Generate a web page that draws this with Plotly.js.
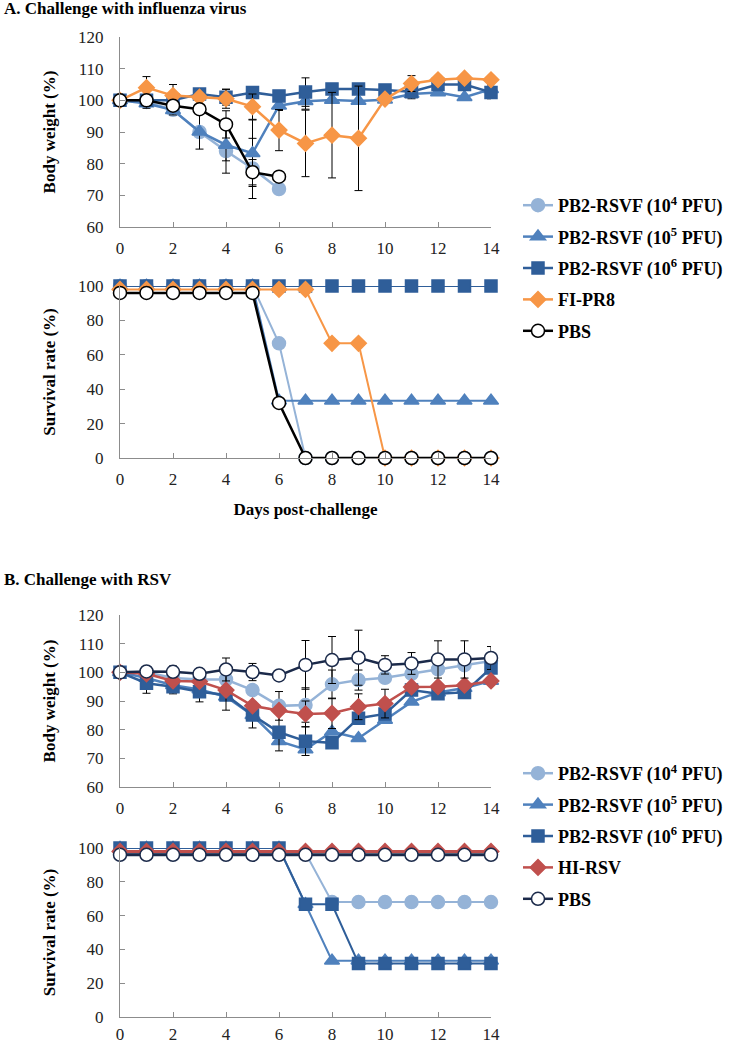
<!DOCTYPE html>
<html>
<head>
<meta charset="utf-8">
<script src="https://cdn.plot.ly/plotly-3.0.1.min.js"></script>
<style>html,body{margin:0;padding:0;background:#fff;}#chart{width:746px;height:1050px;}</style>
</head>
<body>
<div id="chart"></div>
<script>
// ---------- data ----------
const days = [0,1,2,3,4,5,6,7,8,9,10,11,12,13,14];
const daysShort = [0,1,2,3,4,5,6];

// Panel A: body weight (%)
const bwA_pb4   = [100, 99.5, 97, 90, 84, 78.5, 72];
const bwA_pb5   = [100, 99, 96.9, 90.1, 85.9, 83.3, 98.3, 99.7, 100.1, 99.8, 100.2, 102, 102.5, 101, 103.5];
const bwA_pb6   = [100, 100, 100, 102, 101, 102.5, 101.4, 102.6, 103.6, 103.6, 103.3, 102.7, 105, 105, 102.5];
const bwA_fipr8 = [100, 104, 101.5, 101, 100.5, 98, 90.6, 86.4, 89, 88, 100.4, 105.3, 106.5, 107, 106.5];
const bwA_pbs   = [100, 100, 98.3, 97.2, 92.4, 77.3, 75.9];
// Panel A: error bars (SD)
const errA_pb4   = [null, null, null, null, 7, 9.5, null];
const errA_pb5   = [null, 1.5, 1.5, 5.5, 5, 10.5, 1.5, 2.5, null, null, null, 1.5, null, null, 1.5];
const errA_pb6   = [null, null, null, 1.5, 2.5, 1.5, null, 4.5, null, null, null, 1, null, null, 2];
const errA_fipr8 = [null, 3.5, 3.5, null, 3, 4, 6.5, 10.5, 13.5, 16.5, null, 2.5, null, null, null];
const errA_pbs   = [null, null, null, null, 4.3, 4, null];
// Panel A: survival rate (%)
const svA_pb4   = [100,100,100,100,100,100,66.7,0,0,0,0,0,0,0,0];
const svA_pb5   = [100,100,100,100,100,100,33.3,33.3,33.3,33.3,33.3,33.3,33.3,33.3,33.3];
const svA_pb6   = [100,100,100,100,100,100,100,100,100,100,100,100,100,100,100];
const svA_fipr8 = [98,98,98,98,98,98,98,98,66.7,66.7,0,0,0,0,0];
const svA_pbs   = [96,96,96,96,96,96,32,0,0,0,0,0,0,0,0];

// Panel B: body weight (%)
const bwB_pb4   = [100, 100, 98, 97.5, 97.5, 93.8, 88.3, 88.6, 95.8, 97.3, 98.1, 99.5, 101, 102.5, 104];
const bwB_pb5   = [100, 98, 95.5, 94, 91.5, 85, 76, 73.1, 79.3, 77, 83.4, 89.7, 93, 94.5, 97];
const bwB_pb6   = [100, 96.2, 95, 93.2, 92.1, 85.1, 79.1, 76, 75.4, 84, 85.5, 93.8, 92.5, 93, 101.5];
const bwB_hirsv = [100, 99.5, 97, 96.8, 93.8, 88.3, 86.7, 85.5, 85.7, 88, 89.1, 94.9, 95, 95.5, 97];
const bwB_pbs   = [100, 100.3, 100.2, 99.5, 101, 100.1, 98.9, 102.6, 104.3, 105.1, 102.6, 103.1, 104.5, 104.5, 105];
// Panel B: error bars (SD)
const errB_pb4   = [null,null,null,null,null,null,5,6,5,3.5,null,null,null,null,null];
const errB_pb5   = [null,null,null,null,null,null,null,null,null,null,null,null,null,null,null];
const errB_pb6   = [null,3.5,2.5,3.5,null,4.5,6.5,5,null,null,null,null,null,null,null];
const errB_hirsv = [null,null,null,null,7,null,null,4.5,5.3,4.5,5,null,null,null,null];
const errB_pbs   = [null,null,2,null,4,3,null,8.5,8.2,9.6,3.2,3.8,6.5,6.5,4];
// Panel B: survival rate (%)
const svB_pb4   = [97,97,97,97,97,97,97,97,68,68,68,68,68,68,68];
const svB_pb5   = [100,100,100,100,100,100,100,66.7,33.3,33.3,33.3,33.3,33.3,33.3,33.3];
const svB_pb6   = [100,100,100,100,100,100,100,66.7,66.7,31.7,31.7,31.7,31.7,31.7,31.7];
const svB_hirsv = [98,98,98,98,98,98,98,98,98,98,98,98,98,98,98];
const svB_pbs   = [96,96,96,96,96,96,96,96,96,96,96,96,96,96,96];

const namesA = ['PB2-RSVF (10<sup>4</sup> PFU)','PB2-RSVF (10<sup>5</sup> PFU)','PB2-RSVF (10<sup>6</sup> PFU)','FI-PR8','PBS'];
const namesB = ['PB2-RSVF (10<sup>4</sup> PFU)','PB2-RSVF (10<sup>5</sup> PFU)','PB2-RSVF (10<sup>6</sup> PFU)','HI-RSV','PBS'];

// ---------- styles ----------
const SERIF = 'Liberation Serif, Times New Roman, serif';
const C_LIGHT = '#95B3D7', C_MID = '#4F81BD', C_DARK = '#2F5E99', C_ORANGE = '#F79646', C_RED = '#C0504D';
const stylesA = [
  {color:C_LIGHT, symbol:'circle', size:13, mcolor:C_LIGHT, mline:C_LIGHT},
  {color:C_MID, symbol:'triangle-up', size:13, mcolor:C_MID, mline:C_MID},
  {color:C_DARK, symbol:'square', size:12, mcolor:C_DARK, mline:C_DARK},
  {color:C_ORANGE, symbol:'diamond', size:12, mcolor:C_ORANGE, mline:C_ORANGE},
  {color:'#000000', symbol:'circle', size:13, mcolor:'#ffffff', mline:'#000000'}
];
const stylesB = [
  {color:C_LIGHT, symbol:'circle', size:13, mcolor:C_LIGHT, mline:C_LIGHT},
  {color:C_MID, symbol:'triangle-up', size:13, mcolor:C_MID, mline:C_MID},
  {color:C_DARK, symbol:'square', size:12, mcolor:C_DARK, mline:C_DARK},
  {color:C_RED, symbol:'diamond', size:12, mcolor:C_RED, mline:C_RED},
  {color:'#1B2A4A', symbol:'circle', size:13, mcolor:'#ffffff', mline:'#1B2A4A'}
];

function mk(x, y, err, name, st, xa, ya, legend, showlegend, lw){
  const t = {
    type:'scatter', mode:'lines+markers', x:x, y:y, name:name,
    xaxis:xa, yaxis:ya, legend:legend, legendgroup:legend+name, showlegend:showlegend,
    cliponaxis:false,
    line:{color:st.color, width:lw||2.5},
    marker:{symbol:st.symbol, size:st.size, color:st.mcolor, line:{color:st.mline, width:1.5}},
    hoverinfo:'x+y+name'
  };
  if(err){ t.error_y = {type:'data', array:err, symmetric:true, color:'#000000', thickness:1, width:4}; }
  return t;
}

const traces = [];
const bwA = [bwA_pb4,bwA_pb5,bwA_pb6,bwA_fipr8,bwA_pbs];
const errA = [errA_pb4,errA_pb5,errA_pb6,errA_fipr8,errA_pbs];
const svA = [svA_pb4,svA_pb5,svA_pb6,svA_fipr8,svA_pbs];
const bwB = [bwB_pb4,bwB_pb5,bwB_pb6,bwB_hirsv,bwB_pbs];
const errB = [errB_pb4,errB_pb5,errB_pb6,errB_hirsv,errB_pbs];
const svB = [svB_pb4,svB_pb5,svB_pb6,svB_hirsv,svB_pbs];

for(let i=0;i<5;i++){
  const xs = bwA[i].length === days.length ? days : daysShort;
  traces.push(mk(xs, bwA[i], errA[i], namesA[i], stylesA[i], 'x', 'y', 'legend', true));
}
for(let i=0;i<5;i++){
  traces.push(mk(days, svA[i], null, namesA[i], stylesA[i], 'x2', 'y2', 'legend', false, i===4?2.5:2));
}
for(let i=0;i<5;i++){
  traces.push(mk(days, bwB[i], errB[i], namesB[i], stylesB[i], 'x3', 'y3', 'legend2', true));
}
for(let i=0;i<5;i++){
  traces.push(mk(days, svB[i], null, namesB[i], stylesB[i], 'x4', 'y4', 'legend2', false, i>=3?3:2));
}

const tickFont = {family:SERIF, size:17, color:'#222222'};
const titleFont = {family:SERIF, size:17, color:'#000000', weight:'bold'};
function xax(anchor, title, standoff){
  const a = {domain:[0,1], range:[0,14], dtick:2, tick0:0, showgrid:false, zeroline:false,
    showline:true, linecolor:'#8c8c8c', linewidth:1, ticks:'inside', ticklen:5, tickcolor:'#8c8c8c',
    tickfont:tickFont, ticklabelstandoff:(standoff===undefined?6:standoff), anchor:anchor, fixedrange:true};
  if(title){ a.title = {text:title, font:titleFont, standoff:14}; }
  return a;
}
function yax(anchor, dom, rng, dt, title){
  return {domain:dom, range:rng, dtick:dt, showgrid:false, zeroline:false,
    showline:true, linecolor:'#8c8c8c', linewidth:1, ticks:'inside', ticklen:5, tickcolor:'#8c8c8c',
    tickfont:tickFont, ticklabelstandoff:12, anchor:anchor, fixedrange:true,
    title:{text:title, font:titleFont, standoff:18}};
}
const H = 1050;
const dom = (top, bot) => [1 - bot/H, 1 - top/H];

const layout = {
  width:746, height:1050,
  margin:{l:120, r:255, t:0, b:0},
  paper_bgcolor:'#ffffff', plot_bgcolor:'#ffffff',
  font:{family:SERIF},
  showlegend:true,
  xaxis:xax('y'),
  yaxis:yax('x', dom(37,227), [60,120], 10, 'Body weight (%)'),
  xaxis2:xax('y2', 'Days post-challenge'),
  yaxis2:yax('x2', dom(286,458), [0,100], 20, 'Survival rate (%)'),
  xaxis3:xax('y3'),
  yaxis3:yax('x3', dom(615,787), [60,120], 10, 'Body weight (%)'),
  xaxis4:xax('y4', null, 2),
  yaxis4:yax('x4', dom(848,1017), [0,100], 20, 'Survival rate (%)'),
  legend:{x:(518-120)/371, y:1-268/H, xanchor:'left', yanchor:'middle', bgcolor:'rgba(0,0,0,0)',
    font:{family:SERIF, size:18, color:'#000000', weight:'bold'}, tracegroupgap:5, itemwidth:30},
  legend2:{x:(518-120)/371, y:1-836/H, xanchor:'left', yanchor:'middle', bgcolor:'rgba(0,0,0,0)',
    font:{family:SERIF, size:18, color:'#000000', weight:'bold'}, tracegroupgap:5, itemwidth:30},
  annotations:[
    {text:'A. Challenge with influenza virus', xref:'paper', yref:'paper', x:(2-120)/371, y:1-8/H,
      xanchor:'left', yanchor:'middle', showarrow:false, font:{family:SERIF, size:17, color:'#000000', weight:'bold'}},
    {text:'B. Challenge with RSV', xref:'paper', yref:'paper', x:(2-120)/371, y:1-579/H,
      xanchor:'left', yanchor:'middle', showarrow:false, font:{family:SERIF, size:17, color:'#000000', weight:'bold'}}
  ]
};

Plotly.newPlot('chart', traces, layout, {displayModeBar:false, staticPlot:true});
</script>
</body>
</html>
